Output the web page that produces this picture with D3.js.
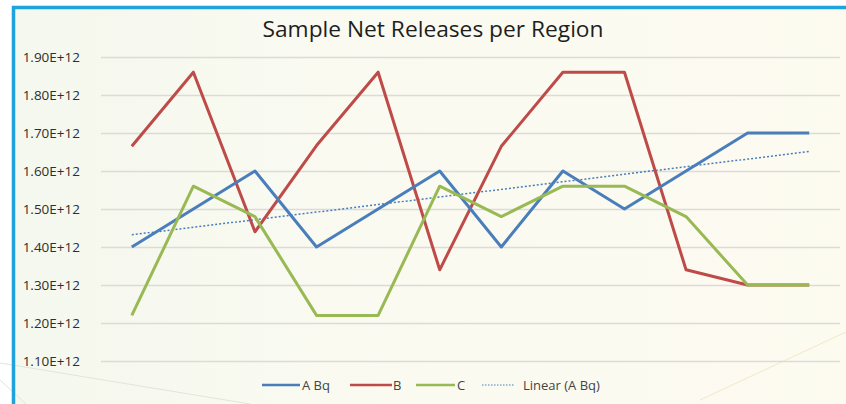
<!DOCTYPE html>
<html>
<head>
<meta charset="utf-8">
<script src="https://cdn.jsdelivr.net/npm/d3@7"></script>
<style>
  body { margin: 0; background: #ffffff; }
  svg { display: block; font-family: "Open Sans", sans-serif; }
</style>
</head>
<body>
<script>
const svgWidth = 846
const svgHeight = 404

const margin = { top: 57, right: 6, bottom: 43, left: 101 }
const chartWidth = svgWidth - margin.left - margin.right
const chartHeight = svgHeight - margin.top - margin.bottom

// data (values in 1e12)
const categories = ["1", "2", "3", "4", "5", "6", "7", "8", "9", "10", "11", "12"]
const seriesA = [1.40, 1.50, 1.60, 1.40, 1.50, 1.60, 1.40, 1.60, 1.50, 1.60, 1.70, 1.70]
const seriesB = [1.665, 1.86, 1.44, 1.667, 1.86, 1.34, 1.665, 1.86, 1.86, 1.34, 1.30, 1.30]
const seriesC = [1.22, 1.56, 1.48, 1.22, 1.22, 1.56, 1.48, 1.56, 1.56, 1.48, 1.30, 1.30]
const yTicks = [1.10, 1.20, 1.30, 1.40, 1.50, 1.60, 1.70, 1.80, 1.90]
const legendLabels = ["A Bq", "B", "C", "Linear (A Bq)"]

const colorA = "#4a7ebb"
const colorB = "#be4b48"
const colorC = "#98b954"

const svg = d3.select("body").append("svg")
    .attr("width", svgWidth)
    .attr("height", svgHeight)

// background panel
const defs = svg.append("defs")
const grad = defs.append("linearGradient").attr("id", "bg")
grad.append("stop").attr("offset", "0%").attr("stop-color", "#f5f8ee")
grad.append("stop").attr("offset", "45%").attr("stop-color", "#fafaf1")
grad.append("stop").attr("offset", "100%").attr("stop-color", "#fdfbf0")

svg.append("rect")
    .attr("x", 13).attr("y", 7)
    .attr("width", svgWidth - 13).attr("height", svgHeight - 7)
    .attr("fill", "url(#bg)")

// faint decorative strokes
svg.append("line").attr("x1", 0).attr("y1", 363).attr("x2", 250).attr("y2", 404)
    .attr("stroke", "#dfe6d8").attr("stroke-width", 1)
svg.append("line").attr("x1", 0).attr("y1", 380).attr("x2", 26).attr("y2", 404)
    .attr("stroke", "#dfe6d8").attr("stroke-width", 1)
svg.append("line").attr("x1", 700).attr("y1", 400).attr("x2", 846).attr("y2", 332)
    .attr("stroke", "#f1e8c6").attr("stroke-width", 1)

// blue frame
svg.append("path")
    .attr("d", `M13.5,${svgHeight} V7.5 H${svgWidth}`)
    .attr("fill", "none")
    .attr("stroke", "#1ea3dc")
    .attr("stroke-width", 3.5)

const chartG = svg.append("g")
    .attr("transform", `translate(${margin.left}, ${margin.top})`)

const x = d3.scalePoint()
    .domain(categories)
    .range([0, chartWidth])
    .padding(0.5)

const y = d3.scaleLinear()
    .domain([1.10, 1.90])
    .range([chartHeight, 0])

// gridlines
const grid = chartG.append("g")
    .call(d3.axisLeft(y).tickValues(yTicks).tickSize(-chartWidth).tickFormat(""))
grid.select(".domain").remove()
grid.selectAll("line").attr("stroke", "#dcdcd6").attr("stroke-width", 1.3)

// y axis labels
const yAxis = chartG.append("g")
    .attr("transform", "translate(-18, 0)")
    .call(d3.axisLeft(y).tickValues(yTicks).tickSize(0).tickFormat(d => d.toFixed(2) + "E+12"))
yAxis.select(".domain").remove()
yAxis.selectAll("text")
    .attr("fill", "#2e2e2e")
    .attr("font-size", 13.5)
    .attr("font-family", "Open Sans, sans-serif")

// series lines
const line = d3.line()
    .x((d, i) => x(categories[i]))
    .y(d => y(d))

const series = [
    { values: seriesB, color: colorB },
    { values: seriesA, color: colorA },
    { values: seriesC, color: colorC }
]

// linear trend of A
const n = seriesA.length
const xs = d3.range(1, n + 1)
const mx = d3.mean(xs), my = d3.mean(seriesA)
const slope = d3.sum(xs, (v, i) => (v - mx) * (seriesA[i] - my)) / d3.sum(xs, v => (v - mx) * (v - mx))
const trend = xs.map(v => my + slope * (v - mx))

chartG.append("path")
    .attr("d", line(trend))
    .attr("fill", "none")
    .attr("stroke", colorA)
    .attr("stroke-width", 1.5)
    .attr("stroke-dasharray", "2,2")

series.forEach(s => {
    chartG.append("path")
        .attr("d", line(s.values))
        .attr("fill", "none")
        .attr("stroke", s.color)
        .attr("stroke-width", 3)
        .attr("stroke-linejoin", "round")
})

// title
svg.append("text")
    .attr("x", 433)
    .attr("y", 37)
    .attr("text-anchor", "middle")
    .attr("font-size", 21)
    .attr("fill", "#1e1e1e")
    .attr("textLength", 341)
    .attr("lengthAdjust", "spacingAndGlyphs")
    .text("Sample Net Releases per Region")

// legend
const legendItems = [
    { label: legendLabels[0], color: colorA, x0: 262, x1: 300, tx: 302, dash: null },
    { label: legendLabels[1], color: colorB, x0: 350, x1: 392, tx: 393, dash: null },
    { label: legendLabels[2], color: colorC, x0: 416, x1: 455, tx: 457, dash: null },
    { label: legendLabels[3], color: colorA, x0: 482, x1: 515, tx: 523, dash: "1.5,1.5" }
]
const legend = svg.append("g")
legendItems.forEach(it => {
    legend.append("line")
        .attr("x1", it.x0).attr("x2", it.x1)
        .attr("y1", 385).attr("y2", 385)
        .attr("stroke", it.color)
        .attr("stroke-width", it.dash ? 1.2 : 2.5)
        .attr("stroke-dasharray", it.dash)
    legend.append("text")
        .attr("x", it.tx)
        .attr("y", 389.5)
        .attr("font-size", 13)
        .attr("fill", "#444444")
        .text(it.label)
})
</script>
</body>
</html>
